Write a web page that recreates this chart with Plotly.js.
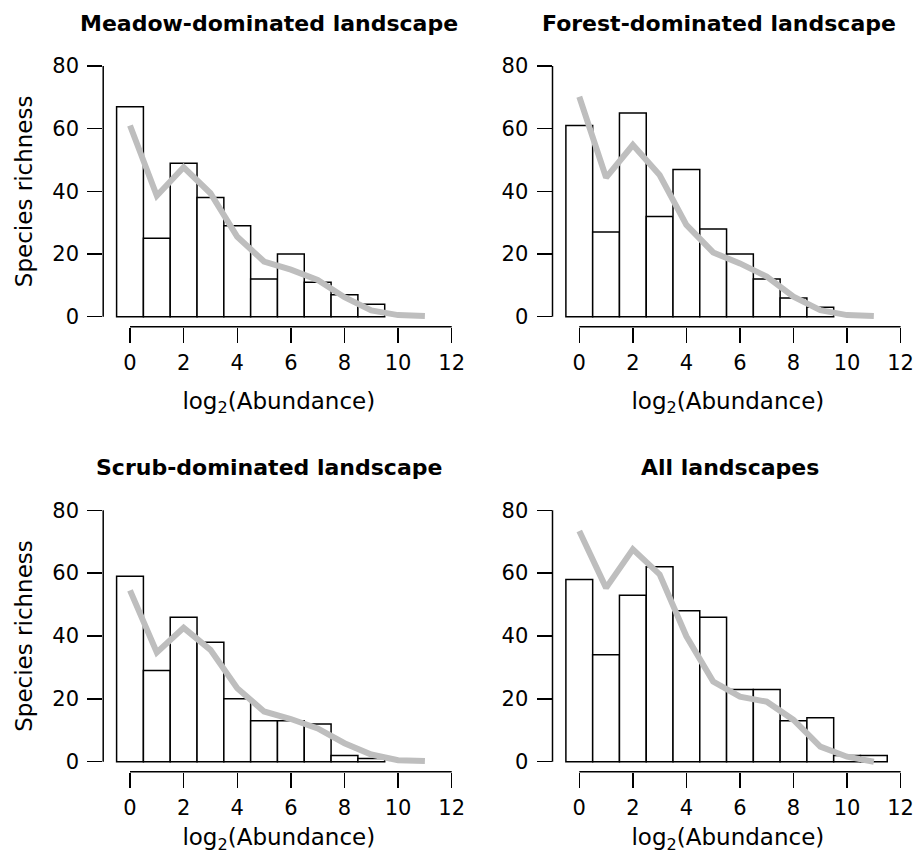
<!DOCTYPE html>
<html>
<head>
<meta charset="utf-8">
<script src="https://cdn.plot.ly/plotly-3.0.1.min.js"></script>
<style>
html, body { margin: 0; padding: 0; background: #ffffff; }
#chart { width: 916px; height: 854px; }
</style>
</head>
<body>
<div id="chart"></div>
<script>
// ---- data ----
const bins = [0, 1, 2, 3, 4, 5, 6, 7, 8, 9, 10, 11];

const meadowBars = [67, 25, 49, 38, 29, 12, 20, 11, 7, 4, null, null];
const forestBars = [61, 27, 65, 32, 47, 28, 20, 12, 6, 3, null, null];
const scrubBars  = [59, 29, 46, 38, 20, 13, 13, 12, 2, 1, null, null];
const allBars    = [58, 34, 53, 62, 48, 46, 23, 23, 13, 14, 2, 2];

const meadowFit = [61, 38.6, 47.7, 39.4, 25.5, 17.6, 15.0, 11.7, 6.2, 2.0, 0.5, 0.2];
const forestFit = [70.2, 44.4, 54.8, 45.2, 29.3, 20.5, 17.0, 12.8, 6.4, 2.1, 0.5, 0.2];
const scrubFit  = [54.5, 34.8, 42.6, 35.6, 23.4, 16.0, 13.6, 10.6, 5.9, 2.3, 0.5, 0.2];
const allFit    = [73.4, 55.3, 67.6, 59.6, 39.9, 25.5, 20.7, 19.1, 13.3, 4.8, 1.6, 0.0];

const panelTitles = ['Meadow-dominated landscape', 'Forest-dominated landscape',
                     'Scrub-dominated landscape', 'All landscapes'];
const xTicks = [0, 2, 4, 6, 8, 10, 12];
const yTicks = [0, 20, 40, 60, 80];
const xTitle = 'log<sub>2</sub>(Abundance)';
const yTitle = 'Species richness';

// ---- layout geometry ----
const W = 916, H = 854;
const xRange = [-1, 12.1];
const yRange = [-3.2, 83.2];
const xDomains = [[103.2 / W, 454.4 / W], [552.5 / W, 903.3 / W],
                  [103.2 / W, 454.4 / W], [552.5 / W, 903.3 / W]];
const yDomains = [[1 - 326.7 / H, 1 - 56 / H], [1 - 326.7 / H, 1 - 56 / H],
                  [1 - 771.8 / H, 1 - 500.2 / H], [1 - 771.8 / H, 1 - 500.2 / H]];
const titlePos = [[269 / W, 1 - 23 / H], [719 / W, 1 - 23 / H],
                  [269 / W, 1 - 467.5 / H], [730 / W, 1 - 467.5 / H]];

const barSets = [meadowBars, forestBars, scrubBars, allBars];
const fitSets = [meadowFit, forestFit, scrubFit, allFit];

const FONT = 'DejaVu Sans, Liberation Sans, Arial, sans-serif';
const LW = 1.5;
const traces = [];
const layout = {
  width: W, height: H, autosize: false,
  margin: {l: 0, r: 0, t: 0, b: 0, pad: 0},
  paper_bgcolor: '#ffffff', plot_bgcolor: 'rgba(0,0,0,0)',
  showlegend: false, bargap: 0,
  font: {family: FONT, color: '#000000'},
  shapes: [], annotations: []
};

for (let i = 0; i < 4; i++) {
  const n = i + 1;
  const xa = n === 1 ? 'x' : 'x' + n;
  const ya = n === 1 ? 'y' : 'y' + n;
  traces.push({
    type: 'bar', x: bins, y: barSets[i], width: 1,
    marker: {color: '#ffffff', line: {color: '#000000', width: LW}},
    xaxis: xa, yaxis: ya, hoverinfo: 'skip'
  });
  traces.push({
    type: 'scatter', mode: 'lines', x: bins, y: fitSets[i],
    line: {color: '#bebebe', width: 6},
    xaxis: xa, yaxis: ya, hoverinfo: 'skip', cliponaxis: false
  });

  const axCommon = {
    ticks: 'outside', ticklen: 15, tickwidth: LW, tickcolor: '#000000',
    showline: false, showgrid: false, zeroline: false,
    tickfont: {family: FONT, size: 21, color: '#000000'},
    automargin: false, fixedrange: true
  };
  layout[n === 1 ? 'xaxis' : 'xaxis' + n] = Object.assign({}, axCommon, {
    domain: xDomains[i], range: xRange, anchor: ya,
    tickmode: 'array', tickvals: xTicks, ticktext: xTicks.map(String),
    ticklabelstandoff: 2,
    title: {text: xTitle, font: {family: FONT, size: 23, color: '#000000'}, standoff: 18}
  });
  const yax = Object.assign({}, axCommon, {
    domain: yDomains[i], range: yRange, anchor: xa,
    tickmode: 'array', tickvals: yTicks, ticktext: yTicks.map(String),
    ticklabelstandoff: 4
  });
  if (i % 2 === 0) {
    yax.title = {text: yTitle, font: {family: FONT, size: 23, color: '#000000'}, standoff: 13};
  }
  layout[n === 1 ? 'yaxis' : 'yaxis' + n] = yax;

  // R-style axis lines spanning only the tick range
  const xs = xRange[1] - xRange[0], ys = yRange[1] - yRange[0];
  layout.shapes.push({
    type: 'line', xref: xa + ' domain', yref: ya + ' domain',
    x0: (xTicks[0] - xRange[0]) / xs, x1: (xTicks[xTicks.length - 1] - xRange[0]) / xs,
    y0: 0, y1: 0, line: {color: '#000000', width: LW}
  });
  layout.shapes.push({
    type: 'line', xref: xa + ' domain', yref: ya + ' domain',
    x0: 0, x1: 0,
    y0: (yTicks[0] - yRange[0]) / ys, y1: (yTicks[yTicks.length - 1] - yRange[0]) / ys,
    line: {color: '#000000', width: LW}
  });

  layout.annotations.push({
    xref: 'paper', yref: 'paper', x: titlePos[i][0], y: titlePos[i][1],
    xanchor: 'center', yanchor: 'middle', showarrow: false,
    text: '<b>' + panelTitles[i] + '</b>',
    font: {family: FONT, size: 22, color: '#000000'}
  });
}

Plotly.newPlot('chart', traces, layout, {displayModeBar: false, staticPlot: true});
</script>
</body>
</html>
